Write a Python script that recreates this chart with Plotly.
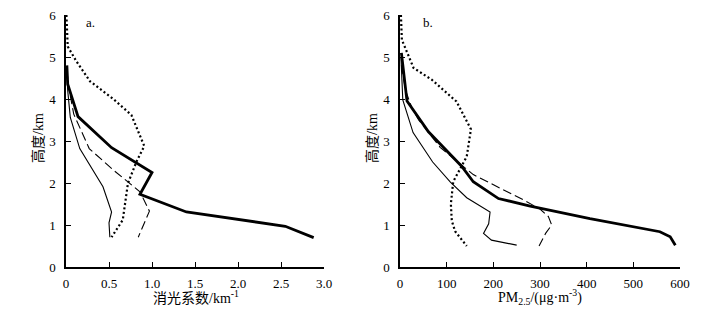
import plotly.graph_objects as go

# Panel a: extinction coefficient (km^-1) vs height (km)
a_thick_x = [0.01, 0.02, 0.14, 0.53, 1.00, 0.86, 1.40, 2.55, 2.88]
a_thick_y = [4.80, 4.35, 3.58, 2.84, 2.25, 1.73, 1.31, 0.97, 0.70]
a_thin_x = [0.01, 0.02, 0.05, 0.16, 0.43, 0.53, 0.50, 0.51]
a_thin_y = [4.60, 4.20, 3.56, 2.82, 1.91, 1.31, 1.05, 0.71]
a_dash_x = [0.01, 0.03, 0.09, 0.27, 0.55, 0.86, 0.97, 0.84]
a_dash_y = [4.70, 4.30, 3.64, 2.82, 2.31, 1.79, 1.33, 0.71]
a_dot_x = [0.005, 0.02, 0.12, 0.28, 0.55, 0.76, 0.91, 0.82, 0.72, 0.69, 0.66, 0.53]
a_dot_y = [6.00, 5.25, 4.90, 4.42, 4.00, 3.62, 2.88, 2.51, 1.99, 1.51, 1.12, 0.71]

# Panel b: PM2.5 (ug m^-3) vs height (km)
b_thick_x = [3, 8, 15, 61, 132, 157, 211, 279, 407, 557, 579, 590]
b_thick_y = [5.10, 4.60, 3.95, 3.22, 2.40, 2.03, 1.63, 1.45, 1.15, 0.84, 0.72, 0.52]
b_thin_x = [2, 4, 6, 28, 70, 108, 143, 193, 190, 179, 196, 250]
b_thin_y = [5.00, 4.50, 3.98, 3.20, 2.50, 2.02, 1.65, 1.31, 1.03, 0.80, 0.64, 0.52]
b_dash_x = [3, 12, 25, 40, 86, 157, 264, 300, 318, 325, 312, 298]
b_dash_y = [4.80, 4.20, 3.80, 3.50, 2.85, 2.20, 1.60, 1.38, 1.20, 1.00, 0.80, 0.50]
b_dot_x = [2, 4, 29, 68, 121, 152, 143, 114, 109, 111, 118, 143]
b_dot_y = [6.00, 5.41, 4.74, 4.46, 3.94, 3.28, 2.63, 2.03, 1.50, 1.10, 0.85, 0.50]

a_ticks = [0, 0.5, 1.0, 1.5, 2.0, 2.5, 3.0]
a_ticklabels = ["0", "0.5", "1.0", "1.5", "2.0", "2.5", "3.0"]
b_ticks = [0, 100, 200, 300, 400, 500, 600]
y_ticks = [0, 1, 2, 3, 4, 5, 6]

# the page body adds an 8px offset; figure sized to fill the rest of the window
OFF = 8
W, H = 722 - OFF, 311 - OFF
FONT = "Liberation Serif, Times New Roman, Noto Sans CJK SC, serif"

def px(x):
    return (x - OFF) / W

def py(y):
    return 1 - (y - OFF) / H

fig = go.Figure()

def add(x, y, xa, ya, width, dash):
    fig.add_trace(go.Scatter(x=x, y=y, xaxis=xa, yaxis=ya, mode="lines",
                             line=dict(color="black", width=width, dash=dash),
                             showlegend=False, hoverinfo="skip", cliponaxis=False))

add(a_thick_x, a_thick_y, "x", "y", 2.8, "solid")
add(a_thin_x, a_thin_y, "x", "y", 1.1, "solid")
add(a_dash_x, a_dash_y, "x", "y", 1.1, "9px,4px")
add(a_dot_x, a_dot_y, "x", "y", 2.2, "2px,2.5px")

add(b_thick_x, b_thick_y, "x2", "y2", 2.8, "solid")
add(b_thin_x, b_thin_y, "x2", "y2", 1.1, "solid")
add(b_dash_x, b_dash_y, "x2", "y2", 1.1, "9px,4px")
add(b_dot_x, b_dot_y, "x2", "y2", 2.2, "2px,2.5px")

ydom = [py(267), py(15)]
axcommon = dict(showgrid=False, zeroline=False, showline=True, linecolor="black",
                linewidth=1.5, ticks="inside", ticklen=5, tickwidth=1.2, tickcolor="black",
                tickfont=dict(family=FONT, size=13, color="black"), mirror=False,
                automargin=False, ticklabeloverflow="allow")

fig.update_layout(
    template="none",
    width=W, height=H,
    margin=dict(l=0, r=0, t=0, b=0),
    paper_bgcolor="white", plot_bgcolor="white",
    xaxis=dict(domain=[px(66), px(324)], range=[0, 3.0], tickvals=a_ticks,
               ticktext=a_ticklabels, anchor="y", ticklabelstandoff=4, **axcommon),
    yaxis=dict(domain=ydom, range=[0, 6], tickvals=y_ticks, anchor="x",
               ticklabelstandoff=6, **axcommon),
    xaxis2=dict(domain=[px(400), px(680)], range=[0, 600], tickvals=b_ticks,
                anchor="y2", ticklabelstandoff=4, **axcommon),
    yaxis2=dict(domain=ydom, range=[0, 6], tickvals=y_ticks, anchor="x2",
                ticklabelstandoff=6, **axcommon),
)

def ann(text, x, y, size=13, angle=0, xanchor="center"):
    fig.add_annotation(text=text, x=px(x), y=py(y), xref="paper", yref="paper",
                       showarrow=False, textangle=angle, xanchor=xanchor, yanchor="middle",
                       font=dict(family=FONT, size=size, color="black"))

ann("高度/km", 38, 138, size=14, angle=-90)
ann("高度/km", 372, 138, size=14, angle=-90)
ann("消光系数/km<sup>-1</sup>", 196, 297, size=14)
ann("PM<sub>2.5</sub>/(μg·m<sup>-3</sup>)", 540, 297, size=14)
ann("a.", 84, 22, xanchor="left")
ann("b.", 421, 22, xanchor="left")

fig.write_html("out.html")
